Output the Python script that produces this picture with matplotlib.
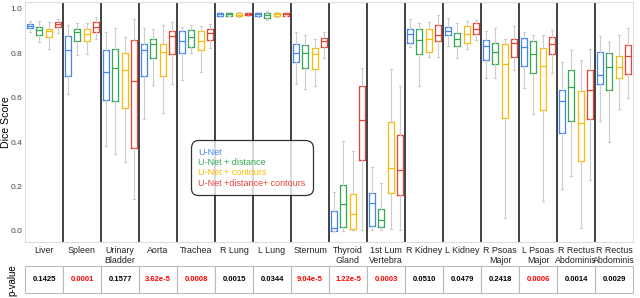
import numpy as np
import matplotlib.pyplot as plt
from matplotlib.lines import Line2D

plt.rcParams['font.family'] = ['Liberation Sans', 'DejaVu Sans']

organs = ["Liver", "Spleen", "Urinary\nBladder", "Aorta", "Trachea", "R Lung", "L Lung",
          "Sternum", "Thyroid\nGland", "1st Lum\nVertebra", "R Kidney", "L Kidney",
          "R Psoas\nMajor", "L Psoas\nMajor", "R Rectus\nAbdominis", "R Rectus\nAbdominis"]
methods = ["U-Net", "U-Net + distance", "U-Net + contours", "U-Net +distance+ contours"]
colors = ["#4285F4", "#34A853", "#FBBC05", "#EA4335"]

# (whislo, q1, med, q3, whishi) per organ, one list per method
unet = [
    (0.895, 0.913, 0.922, 0.931, 0.943), (0.614, 0.699, 0.816, 0.877, 0.925),
    (0.383, 0.590, 0.714, 0.816, 0.895), (0.503, 0.699, 0.813, 0.840, 0.913),
    (0.681, 0.801, 0.855, 0.898, 0.919), (0.963, 0.967, 0.974, 0.982, 0.985),
    (0.963, 0.967, 0.974, 0.982, 0.985), (0.663, 0.759, 0.801, 0.840, 0.895),
    (0.000, 0.000, 0.012, 0.090, 0.175), (0.003, 0.021, 0.127, 0.172, 0.289),
    (0.828, 0.846, 0.886, 0.907, 0.955), (0.831, 0.880, 0.900, 0.916, 0.958),
    (0.690, 0.771, 0.831, 0.858, 0.901), (0.645, 0.741, 0.828, 0.867, 0.895),
    (0.187, 0.440, 0.584, 0.636, 0.762), (0.494, 0.660, 0.702, 0.807, 0.877),
]
unet_dist = [
    (0.849, 0.880, 0.904, 0.918, 0.946), (0.792, 0.855, 0.895, 0.910, 0.937),
    (0.346, 0.584, 0.732, 0.819, 0.913), (0.657, 0.777, 0.843, 0.864, 0.907),
    (0.801, 0.828, 0.873, 0.904, 0.928), (0.965, 0.968, 0.975, 0.980, 0.984),
    (0.949, 0.958, 0.972, 0.982, 0.988), (0.639, 0.735, 0.801, 0.837, 0.880),
    (0.000, 0.018, 0.120, 0.205, 0.404), (0.006, 0.018, 0.051, 0.099, 0.214),
    (0.651, 0.798, 0.861, 0.910, 0.937), (0.777, 0.834, 0.864, 0.889, 0.937),
    (0.687, 0.750, 0.807, 0.846, 0.913), (0.527, 0.711, 0.798, 0.855, 0.880),
    (0.247, 0.494, 0.648, 0.723, 0.813), (0.398, 0.636, 0.738, 0.801, 0.852),
]
unet_cont = [
    (0.819, 0.873, 0.898, 0.910, 0.940), (0.798, 0.855, 0.886, 0.910, 0.937),
    (0.310, 0.551, 0.723, 0.801, 0.873), (0.530, 0.699, 0.807, 0.843, 0.925),
    (0.717, 0.813, 0.855, 0.900, 0.922), (0.962, 0.965, 0.972, 0.980, 0.984),
    (0.963, 0.967, 0.974, 0.981, 0.985), (0.654, 0.729, 0.795, 0.825, 0.864),
    (0.003, 0.009, 0.075, 0.166, 0.361), (0.009, 0.172, 0.283, 0.491, 0.729),
    (0.783, 0.807, 0.864, 0.907, 0.940), (0.819, 0.846, 0.886, 0.922, 0.943),
    (0.060, 0.509, 0.750, 0.840, 0.864), (0.133, 0.542, 0.744, 0.825, 0.880),
    (0.012, 0.316, 0.485, 0.630, 0.768), (0.548, 0.687, 0.738, 0.786, 0.883),
]
unet_dist_cont = [
    (0.892, 0.916, 0.931, 0.940, 0.952), (0.864, 0.895, 0.919, 0.940, 0.961),
    (0.142, 0.375, 0.675, 0.861, 0.952), (0.663, 0.798, 0.877, 0.898, 0.940),
    (0.825, 0.861, 0.889, 0.910, 0.930), (0.966, 0.970, 0.976, 0.982, 0.986),
    (0.965, 0.968, 0.975, 0.981, 0.985), (0.777, 0.828, 0.855, 0.867, 0.895),
    (0.006, 0.319, 0.500, 0.651, 0.732), (0.006, 0.163, 0.274, 0.431, 0.654),
    (0.783, 0.855, 0.883, 0.928, 0.970), (0.861, 0.886, 0.910, 0.934, 0.949),
    (0.723, 0.783, 0.846, 0.864, 0.922), (0.709, 0.798, 0.843, 0.873, 0.904),
    (0.229, 0.503, 0.633, 0.723, 0.819), (0.596, 0.706, 0.789, 0.837, 0.913),
]
series = [unet, unet_dist, unet_cont, unet_dist_cont]

p_values = ["0.1425", "0.0001", "0.1577", "3.62e-5", "0.0008", "0.0015", "0.0344", "9.04e-5",
            "1.22e-5", "0.0003", "0.0510", "0.0479", "0.2418", "0.0006", "0.0014", "0.0029"]
significant = [False, True, False, True, True, False, False, True,
               True, True, False, False, False, True, False, False]

fig = plt.figure(figsize=(6.4, 2.98), dpi=100)
ax = fig.add_axes([25/640, 1 - 242/298, 608/640, 240/298])

n = len(organs)
offsets = [-0.375, -0.125, 0.125, 0.375]
for k, data in enumerate(series):
    stats = [dict(whislo=d[0], q1=d[1], med=d[2], q3=d[3], whishi=d[4], fliers=[]) for d in data]
    pos = np.arange(n) + offsets[k]
    ax.bxp(stats, positions=pos, widths=0.15, showfliers=False, manage_ticks=False,
           boxprops=dict(color=colors[k], linewidth=0.9),
           medianprops=dict(color=colors[k], linewidth=0.9),
           whiskerprops=dict(color="#cccccc", linewidth=0.8),
           capprops=dict(color="#cccccc", linewidth=0.8), capwidths=0.06)

for i in range(n - 1):
    ax.axvline(i + 0.5, color="#333333", linewidth=1.3)

ax.set_xlim(-0.5, n - 0.5)
ax.set_ylim(-0.05, 1.03)
ax.set_yticks(np.arange(0, 1.01, 0.2))
ax.set_yticklabels([f"{v:.1f}" for v in np.arange(0, 1.01, 0.2)], fontsize=6, color="#444444")
ax.set_xticks(np.arange(n))
ax.set_xticklabels(organs, fontsize=6.4, color="#222222", linespacing=1.1)
ax.tick_params(length=0, pad=2)
ax.tick_params(axis="x", pad=3)
ax.set_ylabel("Dice Score", fontsize=7.6, va="center")
ax.yaxis.set_label_coords(-0.031, 0.5)
for s in ax.spines.values():
    s.set_color("#dddddd")

handles = [Line2D([], [], linestyle="none") for _ in methods]
leg = ax.legend(handles, methods, loc="center", bbox_to_anchor=(0.373, 0.31),
                handlelength=0, handletextpad=0, labelcolor=colors, fontsize=6.5,
                frameon=True, fancybox=True, borderpad=0.6, labelspacing=0.15)
leg.get_frame().set_edgecolor("black")
leg.get_frame().set_linewidth(0.9)
leg.get_frame().set_boxstyle("round,pad=0.2,rounding_size=0.8")

# p-value table
tax = fig.add_axes([25/640, 1 - 293/298, 608/640, 27/298])
tax.axis("off")
tbl = tax.table(cellText=[p_values], bbox=[0, 0, 1, 1], cellLoc="center")
tbl.auto_set_font_size(False)
for j in range(n):
    cell = tbl[0, j]
    cell.set_edgecolor("#bbbbbb")
    cell.set_linewidth(0.8)
    cell.get_text().set_fontsize(5.5)
    cell.get_text().set_fontweight("bold")
    cell.get_text().set_color("#ff0000" if significant[j] else "black")
fig.text(12/640, 1 - 280/298, "p-value", rotation=90, ha="center", va="center", fontsize=7)

fig.savefig("out.png", dpi=100)
